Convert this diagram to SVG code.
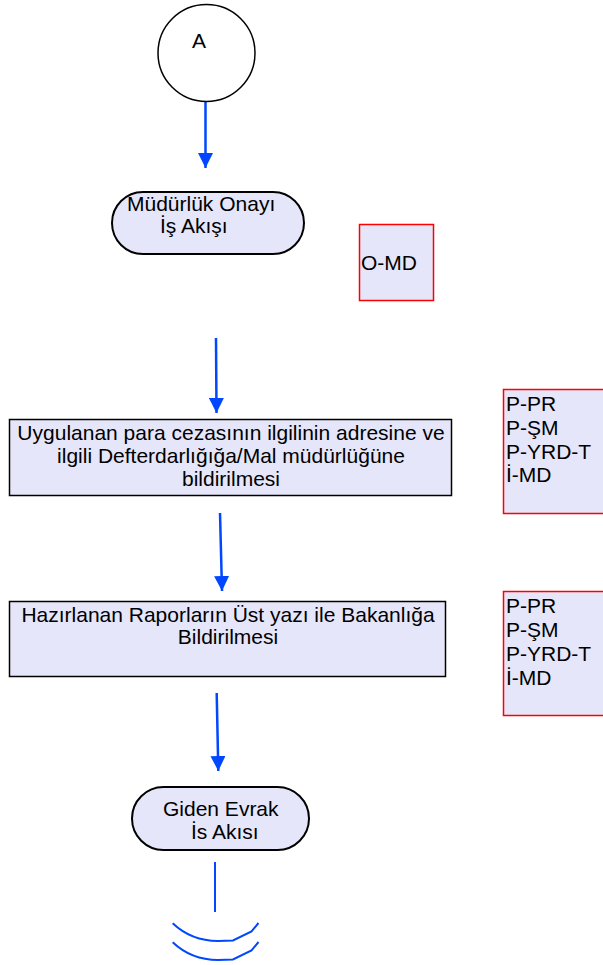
<svg xmlns="http://www.w3.org/2000/svg" width="603" height="965" viewBox="0 0 603 965">
<style>
text{font-family:"Liberation Sans",Arial,sans-serif;font-size:21px;fill:#000}
.c{text-anchor:middle}
.node{fill:#e6e6fa;stroke:#000;stroke-width:1.5}
.term{fill:#e6e6fa;stroke:#000;stroke-width:2}
.resp{fill:#e6e6fa;stroke:#ff0000;stroke-width:1.5}
.flow{stroke:#0047ff;stroke-width:2.5;fill:none}
.thin{stroke:#0047ff;stroke-width:2;fill:none}
</style>
<defs>
<marker id="ah" viewBox="0 0 15 15" refX="15" refY="7.5" markerWidth="15" markerHeight="15" markerUnits="userSpaceOnUse" orient="auto">
<path d="M0,0 L15,7.5 L0,15 Z" fill="#0047ff"/>
</marker>
</defs>
<g id="connectors">
<line class="flow" x1="205.5" y1="101" x2="205.5" y2="168" marker-end="url(#ah)"/>
<line class="flow" x1="216" y1="338" x2="216.5" y2="413" marker-end="url(#ah)"/>
<line class="flow" x1="220" y1="513" x2="222" y2="591" marker-end="url(#ah)"/>
<line class="flow" x1="216.7" y1="693" x2="218.3" y2="771" marker-end="url(#ah)"/>
<line class="thin" x1="215" y1="862" x2="215" y2="912"/>
<path class="thin" d="M172.7,923.3 C185,935 200,941 218,941 L233,940.5 L251.5,931.5 L258.5,923"/>
<path class="thin" d="M172.7,942.3 C185,954 200,960 218,960 L233,959.5 L251.5,950.5 L258.5,942"/>
</g>
<g id="connectorA">
<circle cx="206.5" cy="53" r="48.5" fill="#fff" stroke="#000" stroke-width="1.5"/>
<text x="199" y="48" class="c">A</text>
</g>
<g id="mudurluk-onayi">
<rect class="term" x="112" y="192" width="192" height="62" rx="31" ry="31"/>
<text x="127" y="211">Müdürlük Onayı</text>
<text x="160" y="233">İş Akışı</text>
</g>
<g id="omd">
<rect class="resp" x="359.5" y="224.5" width="74" height="76"/>
<text x="361" y="270">O-MD</text>
</g>
<g id="uygulanan">
<rect class="node" x="9.5" y="419.5" width="442" height="76"/>
<text x="231" y="440" class="c">Uygulanan para cezasının ilgilinin adresine ve</text>
<text x="231" y="463" class="c">ilgili Defterdarlığığa/Mal müdürlüğüne</text>
<text x="231" y="486" class="c">bildirilmesi</text>
</g>
<g id="resp1">
<rect class="resp" x="503.5" y="389.5" width="110" height="124"/>
<text x="506" y="411">P-PR</text>
<text x="506" y="434.8">P-ŞM</text>
<text x="506" y="458.6">P-YRD-T</text>
<text x="506" y="482.4">İ-MD</text>
</g>
<g id="hazirlanan">
<rect class="node" x="9.5" y="601.5" width="436" height="75"/>
<text x="228" y="622" class="c">Hazırlanan Raporların Üst yazı ile Bakanlığa</text>
<text x="228" y="644" class="c">Bildirilmesi</text>
</g>
<g id="resp2">
<rect class="resp" x="503.5" y="591.5" width="110" height="124"/>
<text x="506" y="613">P-PR</text>
<text x="506" y="637">P-ŞM</text>
<text x="506" y="661">P-YRD-T</text>
<text x="506" y="685">İ-MD</text>
</g>
<g id="giden-evrak">
<rect class="term" x="132" y="787" width="177" height="63" rx="31.5" ry="31.5"/>
<text x="163" y="816">Giden Evrak</text>
<text x="191" y="838.5">İs Akısı</text>
</g>
</svg>
